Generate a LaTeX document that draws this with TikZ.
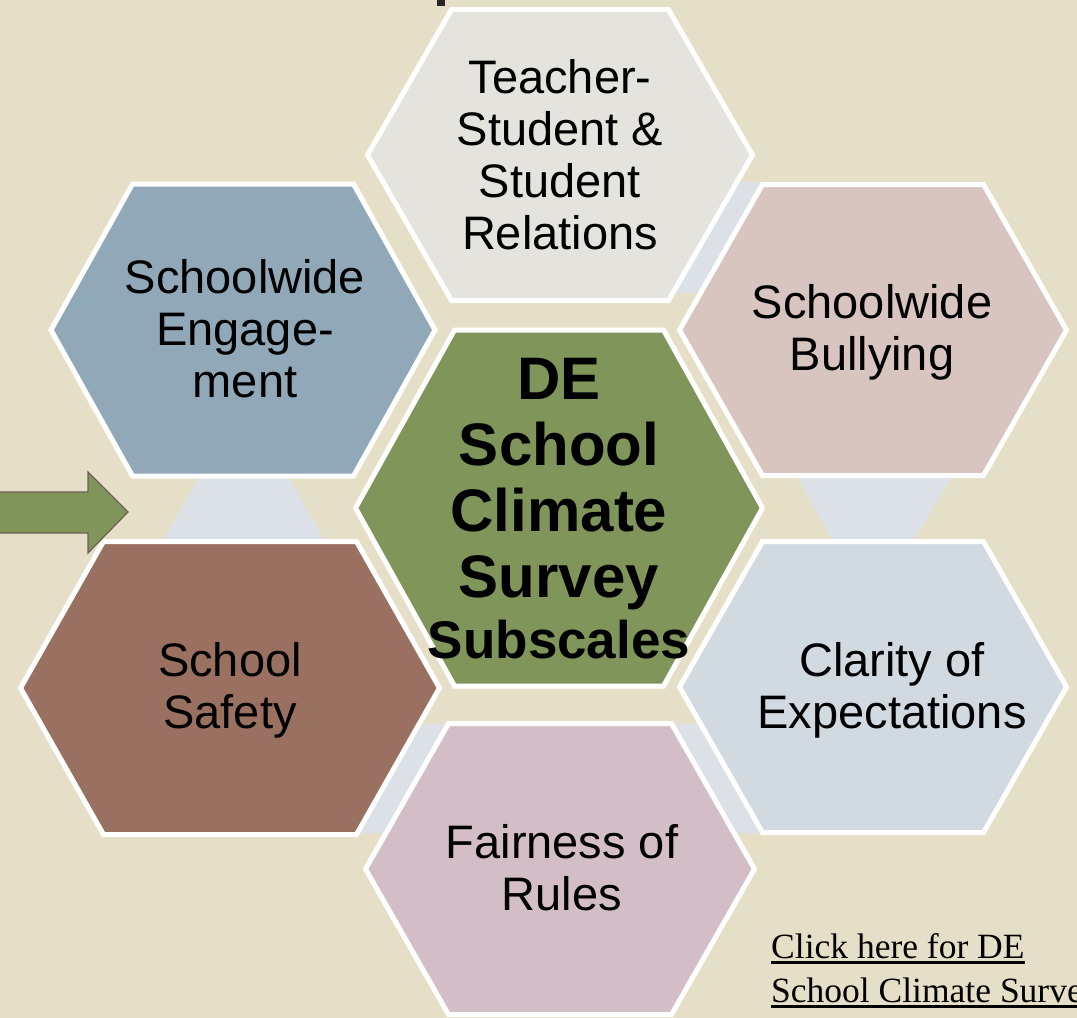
\documentclass[tikz,border=0pt]{standalone}
\usepackage{fontspec}
\setmainfont{Liberation Sans}
\newfontfamily\linkfont{Liberation Serif}
\definecolor{bgc}{HTML}{E6DFC7}
\definecolor{teachc}{HTML}{E4E3DD}
\definecolor{engc}{HTML}{91A8B8}
\definecolor{bullc}{HTML}{D8C5BF}
\definecolor{centc}{HTML}{7F9559}
\definecolor{safec}{HTML}{9A7060}
\definecolor{clarc}{HTML}{D2DAE1}
\definecolor{fairc}{HTML}{D3BEC7}
\definecolor{connc}{HTML}{DCE0E7}
\definecolor{arrowline}{HTML}{6E5E58}
\newcommand\drawhex[6]{%
  \filldraw[fill=#6, hexborder] (#1-#3,#2) -- (#1-#4,#2-#5) -- (#1+#4,#2-#5) -- (#1+#3,#2) -- (#1+#4,#2+#5) -- (#1-#4,#2+#5) -- cycle;}
\begin{document}
\begin{tikzpicture}[x=1pt,y=-1pt,
  hexborder/.style={draw=white,line width=5pt,line join=miter},
  conn/.style={fill=connc},
  lbl/.style={align=center,font=\fontsize{47}{52}\selectfont,text=black,inner sep=0pt,anchor=base},
  linktxt/.style={font=\linkfont\fontsize{35.5}{40}\selectfont,text=black,inner sep=0pt,anchor=base west},
  uline/.style={line width=2.6pt,black}]
\useasboundingbox (0,0) rectangle (1077,1018);
\clip (0,0) rectangle (1077,1018);
\fill[bgc] (0,0) rectangle (1077,1018);
% cut-off title fragment
\fill[black!85] (437,0) rectangle (445,6);
% connector shapes behind the hexagons
\fill[conn] (720,182) -- (800,182) -- (740,293) -- (660,293) -- cycle;
\fill[conn] (203,470) -- (285,470) -- (324,540) -- (163,540) -- cycle;
\fill[conn] (793,470) -- (956,470) -- (914,540) -- (832,540) -- cycle;
\fill[conn] (400,724) -- (470,724) -- (400,833) -- (340,833) -- cycle;
\fill[conn] (640,724) -- (730,724) -- (790,833) -- (700,833) -- cycle;
% hexagons
\drawhex{560}{155}{192.5}{108.5}{145.5}{teachc}
\drawhex{243}{330}{192}{110.5}{146}{engc}
\drawhex{873}{330}{193.5}{110.5}{145.5}{bullc}
\drawhex{230}{688}{209.5}{126.5}{146.5}{safec}
\drawhex{873}{687}{193.5}{110.5}{145.5}{clarc}
\drawhex{560}{869}{194.5}{111.5}{145.5}{fairc}
\drawhex{559}{508}{203.5}{104.5}{178}{centc}
% arrow
\filldraw[fill=centc,draw=arrowline,line width=1.2pt,line join=miter]
  (-5,492) -- (88,492) -- (88,472) -- (128,512) -- (88,553) -- (88,533) -- (-5,533) -- cycle;
% labels (anchor = baseline of last line)
\node[lbl] (teach) at (560,249) {Teacher-\\Student \&\\Student\\Relations};
\node[lbl] (eng) at (245,397) {Schoolwide\\Engage-\\ment};
\node[lbl] (bull) at (872,370) {Schoolwide\\Bullying};
\node[lbl] (safe) at (230,728) {School\\Safety};
\node[lbl] (clar) at (892,728) {Clarity of\\Expectations};
\node[lbl] (fair) at (562,910) {Fairness of\\Rules};
\node[lbl,font=\fontsize{60}{66}\selectfont\bfseries] (cent) at (559,658)
  {DE\\School\\Climate\\Survey\\[-5pt]{\fontsize{53}{61}\selectfont Subscales}};
% link text
\node[linktxt] (link1) at (771,958) {Click here for DE};
\node[linktxt] (link2) at (771,1002) {School Climate Survey};
\draw[uline] ([yshift=-4.5]link1.base west) -- ([yshift=-4.5]link1.base east);
\draw[uline] ([yshift=-4.5]link2.base west) -- ([yshift=-4.5]link2.base east);
\end{tikzpicture}
\end{document}
